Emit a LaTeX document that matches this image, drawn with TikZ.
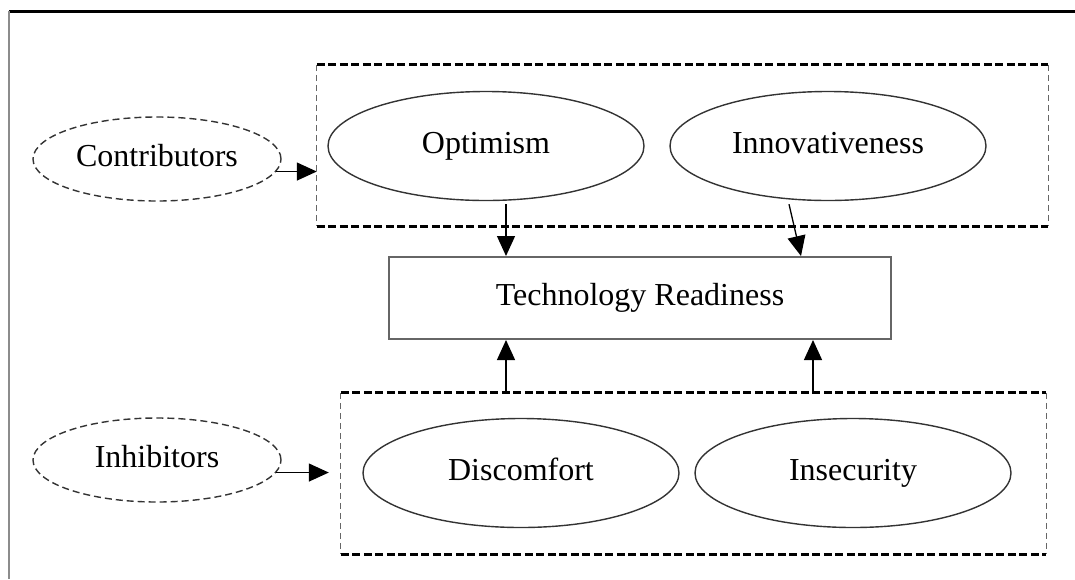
\documentclass[tikz,border=0pt]{standalone}
\usepackage{fontspec}
\setmainfont{Liberation Serif}
\usepackage{tikz}
\usetikzlibrary{shapes,arrows.meta,positioning,calc}

\tikzset{
    txt/.style={font=\fontsize{32}{38}\selectfont, inner sep=0pt, text height=22pt, text depth=7pt},
    source/.style={txt, ellipse, draw=black!80, line width=1.4pt, dash pattern=on 7pt off 4pt, minimum width=248pt, minimum height=84pt},
    facet/.style={txt, ellipse, draw=black!80, line width=1.4pt, minimum width=316pt, minimum height=109pt},
    group/.style={rectangle, inner sep=0pt},
    sideline/.style={black!60, line width=1.3pt, dash pattern=on 6pt off 4pt},
    edgeline/.style={black, line width=3.2pt, dash pattern=on 8pt off 3.5pt},
    link/.style={-{Triangle[length=20pt,width=18pt]}, line width=1.3pt},
}

\begin{document}
\begin{tikzpicture}[x=1pt, y=-1pt]
    \useasboundingbox (0,0) rectangle (1075,579);
    \draw[black, line width=3pt] (9,11) -- (1075,11);
    \draw[black!45, line width=2pt] (9,11) -- (9,579);

    % contributors
    \node[group, minimum width=731pt, minimum height=161pt] (topbox) at (682.5,145.5) {};
    \node[source] (contrib) at (157,159) {Contributors};
    \node[facet] (optim) at (486,146) {Optimism};
    \node[facet] (innov) at (828,146) {Innovativeness};

    % readiness
    \node[txt, rectangle, draw=black!60, line width=2pt, minimum width=502pt, minimum height=82pt] (tech) at (640,298) {Technology Readiness};

    % inhibitors
    \node[group, minimum width=705pt, minimum height=161pt] (botbox) at (693.5,473.5) {};
    \node[source] (inhib) at (157,460) {Inhibitors};
    \node[facet] (discom) at (521,473) {Discomfort};
    \node[facet] (insec) at (853,473) {Insecurity};

    \foreach \b in {topbox,botbox} {
        \draw[sideline] (\b.north west) -- (\b.south west) (\b.north east) -- (\b.south east);
        \draw[edgeline] (\b.north west) -- (\b.north east) (\b.south west) -- (\b.south east);
    }

    \draw[link] (contrib.-6) -- (contrib.-6 -| topbox.west);
    \draw[link, shorten >=12pt] (inhib.-6) -- (inhib.-6 -| botbox.west);
    \draw[link] ([xshift=20pt,yshift=-3pt]optim.south) -- ([xshift=-134pt]tech.north);
    \draw[link] ([xshift=-39pt,yshift=-3pt]innov.south) -- ([xshift=161pt]tech.north);
    \draw[link] ([xshift=-187.5pt]botbox.north) -- ([xshift=-134pt]tech.south);
    \draw[link] ([xshift=119.5pt]botbox.north) -- ([xshift=173pt]tech.south);
\end{tikzpicture}
\end{document}
